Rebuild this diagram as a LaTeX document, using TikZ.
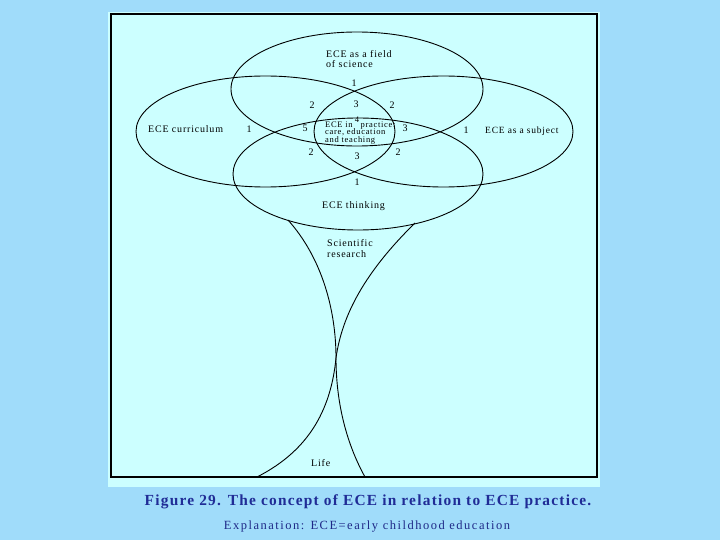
\documentclass[tikz,border=0pt]{standalone}
\usepackage{fontspec}
\setmainfont{Liberation Serif}
\newfontfamily\lblfont{Liberation Serif}[LetterSpace=8]
\newfontfamily\capfont{Liberation Serif}[LetterSpace=8]
\newfontfamily\expfont{Liberation Serif}[LetterSpace=12]
\definecolor{slidebg}{RGB}{160,220,250}
\definecolor{panelbg}{RGB}{204,255,255}
\definecolor{capblue}{RGB}{32,44,150}
\definecolor{expblue}{RGB}{30,40,135}
\begin{document}
\begin{tikzpicture}[x=1pt,y=-1pt,
  outline/.style={draw=black,line width=0.9pt},
  lbl/.style={inner sep=0pt,anchor=base west,font=\lblfont\fontsize{10}{10}\selectfont},
  small/.style={inner sep=0pt,anchor=base west,font=\lblfont\fontsize{8.5}{8.5}\selectfont},
  num/.style={inner sep=0pt,font=\fontsize{10}{10}\selectfont}]
\useasboundingbox (0,0) rectangle (720,540);
\fill[slidebg] (0,0) rectangle (720,540);
\fill[panelbg] (108,12) rectangle (600,487);
\draw[black,line width=1.2pt] (111,14) rectangle (597,477);

% the four overlapping ellipses
\draw[outline] (357,89) ellipse [x radius=126pt, y radius=57pt];
\draw[outline] (358,174) ellipse [x radius=125pt, y radius=56pt];
\draw[outline] (265.5,131.5) ellipse [x radius=129.5pt, y radius=55.5pt];
\draw[outline] (443.5,131.5) ellipse [x radius=129.5pt, y radius=55.5pt];

% stem
\coordinate (sl) at (288,220);
\coordinate (sr) at (415,223);
\coordinate (mid) at (336,358);
\coordinate (bl) at (257,477);
\coordinate (br) at (365,477);
\draw[outline] (sl) .. controls (322,258) and (336,310) .. (mid) .. controls (336,410) and (350,450) .. (br);
\draw[outline] (sr) .. controls (365,272) and (342,315) .. (mid) .. controls (330,420) and (300,455) .. (bl);

% labels
\node[lbl] (fld1) at (326,58) {ECE as a field};
\node[lbl] (fld2) at (326,68) {of science};
\node[lbl] (cur) at (148,133) {ECE curriculum};
\node[lbl,font=\lblfont\fontsize{9.5}{9.5}\selectfont] (sub) at (485,134) {ECE as a subject};
\node[lbl] (thk) at (322,208) {ECE thinking};
\node[lbl] (sci1) at (327,247) {Scientific};
\node[lbl] (sci2) at (327,257) {research};
\node[lbl] (life) at (311,466) {Life};
\node[small] (pr1) at (325,127.5) {ECE in\hspace{8pt}practice:};
\node[small] (pr2) at (325,135) {care, education};
\node[small] (pr3) at (325,142.5) {and teaching};
\node[num,font=\fontsize{8.5}{8.5}\selectfont] (four) at (357,120) {4};

% region numbers
\node[num] (n1t) at (354,83) {1};
\node[num] (n2a) at (312,105) {2};
\node[num] (n3t) at (356,104) {3};
\node[num] (n2b) at (392,105) {2};
\node[num] (n1l) at (249,129) {1};
\node[num] (n5) at (305,128) {5};
\node[num] (n3r) at (405,128) {3};
\node[num] (n1r) at (466,130) {1};
\node[num] (n2c) at (311,152) {2};
\node[num] (n3b) at (357,156) {3};
\node[num] (n2d) at (398,152) {2};
\node[num] (n1b) at (357,182) {1};

% caption
\node[inner sep=0pt,anchor=base,text=capblue,font=\capfont\bfseries\fontsize{15.4}{15.4}\selectfont] (cap) at (368,505) {Figure 29. The concept of ECE in relation to ECE practice.};
\node[inner sep=0pt,anchor=base,text=expblue,font=\expfont\fontsize{12.5}{12.5}\selectfont] (expl) at (367,529) {Explanation: ECE=early childhood education};
\end{tikzpicture}
\end{document}
